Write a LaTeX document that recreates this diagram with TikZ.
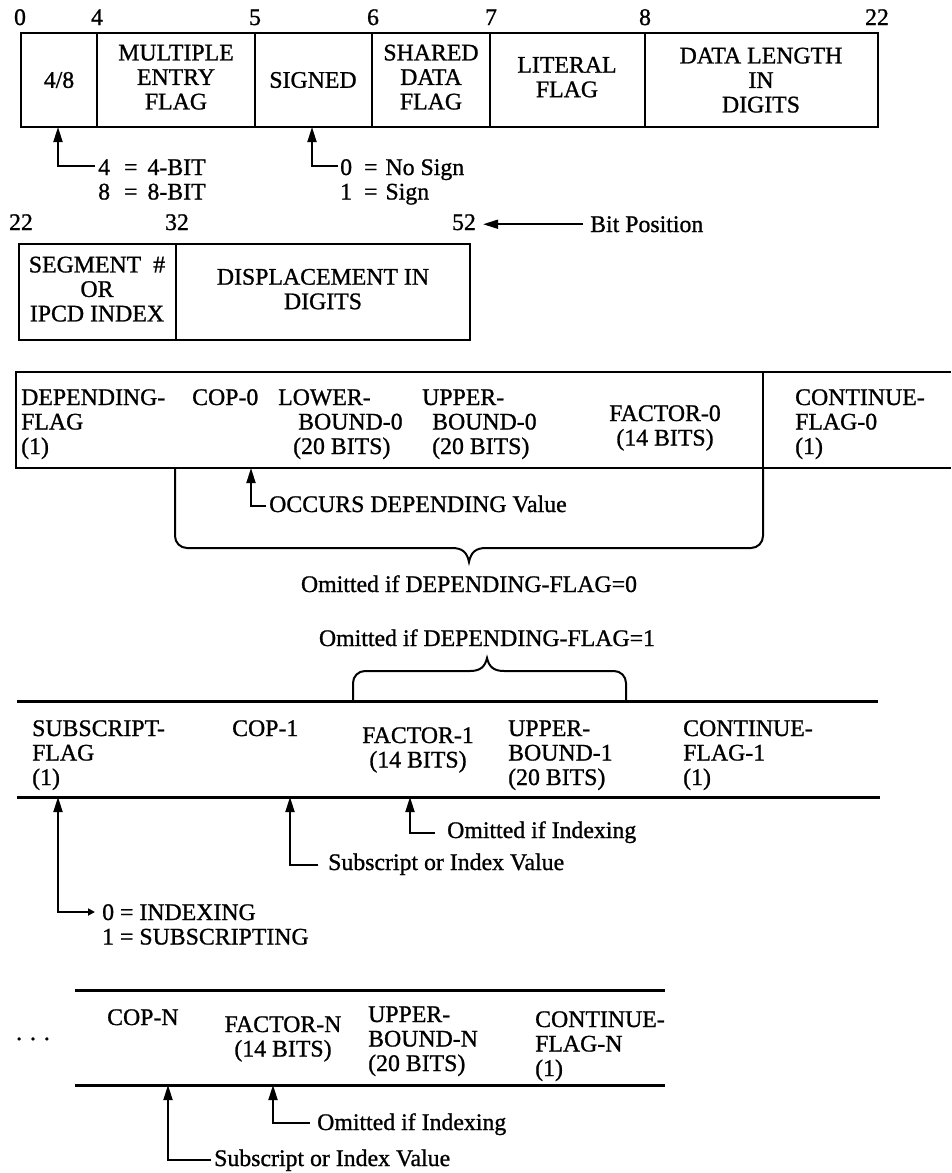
\documentclass[tikz,border=0pt]{standalone}
\usepackage{fontspec}
\setmainfont{Liberation Serif}[FakeBold=1.0]
\usetikzlibrary{arrows.meta}
% multi-line field text whose baseline is that of its first line
\newcommand\fieldtext[2][l]{\begin{tabular}[t]{@{}#1@{}}#2\end{tabular}}
\newcommand\legendfont{\fontsize{23.8}{24.5}\selectfont}

\begin{document}
\begin{tikzpicture}[x=1pt,y=-1pt,
  every node/.style={inner sep=0pt, font=\legendfont},
  cell/.style={line width=2.6pt},
  rule/.style={line width=3pt},
  brace/.style={line width=2pt},
  ptr/.style={line width=1.8pt, -{Triangle[length=15pt,width=9pt]}},
  lbl/.style={anchor=base west},
  num/.style={anchor=base},
]
\useasboundingbox (0,0) rectangle (952,1173);

% ---------- first word: bits 0-22 ----------
\draw[cell] (21,33) rectangle (878,127);
\foreach \x in {97,255,372,490,645} \draw[cell] (\x,33) -- (\x,127);
\node[num] (b0)  at (20,25)  {0};
\node[num] (b4)  at (97,25)  {4};
\node[num] (b5)  at (255,25) {5};
\node[num] (b6)  at (373,25) {6};
\node[num] (b7)  at (491,25) {7};
\node[num] (b8)  at (645,25) {8};
\node[num] (b22) at (877,25) {22};

\node (f48)  at (59,80)  {4/8};
\node (fme)  at (176,80) {\fieldtext[c]{MULTIPLE\\ENTRY\\FLAG}};
\node (fsg)  at (313,80) {SIGNED};
\node (fsd)  at (431,80) {\fieldtext[c]{SHARED\\DATA\\FLAG}};
\node (flit) at (567,80) {\fieldtext[c]{LITERAL\\FLAG}};
\node (fdl)  at (761,83) {\fieldtext[c]{DATA LENGTH\\IN\\DIGITS}};

\coordinate (p48) at (58,127);
\coordinate (e48) at (95,166);
\draw[ptr] (e48) -| (p48);
\node[lbl] (v48) at (98,175)
  {\begin{tabular}[t]{@{}c@{\hspace{14pt}}c@{\hspace{10pt}}l@{}}4 & = & 4-BIT\\ 8 & = & 8-BIT\end{tabular}};

\coordinate (psg) at (312,127);
\coordinate (esg) at (338,166);
\draw[ptr] (esg) -| (psg);
\node[lbl] (vsg) at (340,175)
  {\begin{tabular}[t]{@{}c@{\hspace{12pt}}c@{\hspace{8pt}}l@{}}0 & = & No Sign\\ 1 & = & Sign\end{tabular}};

% ---------- second word: bits 22-52 ----------
\draw[cell] (19,244) rectangle (470,340);
\draw[cell] (176,244) -- (176,340);
\node[num] (c22) at (21,230)  {22};
\node[num] (c32) at (177,230) {32};
\node[num] (c52) at (464,230) {52};
\node[lbl] (bitpos) at (590,232) {Bit Position};
\draw[line width=1.8pt, -{Triangle[length=15pt,width=9pt]}, shorten <=7pt, shorten >=7pt]
  (bitpos.west) -- (bitpos.west -| c52.east);

\node (fseg) at (97,292)  {\fieldtext[c]{SEGMENT\hspace{12pt}\#\\OR\\IPCD INDEX}};
\node (fdsp) at (323,292) {\fieldtext[c]{DISPLACEMENT IN\\DIGITS}};

% ---------- dimension-0 entry ----------
\draw[cell] (951,372) -- (16,372) -- (16,468) -- (951,468);
\draw[cell] (763,372) -- (763,468);

\node[lbl] (dep)  at (21,405)  {\fieldtext{DEPENDING-\\FLAG\\(1)}};
\node[lbl] (cop0) at (192,405) {COP-0};
\node[lbl] (lb0)  at (278,405) {\fieldtext{LOWER-\\\hspace*{20pt}BOUND-0\\\hspace*{15pt}(20 BITS)}};
\node[lbl] (ub0)  at (422,405) {\fieldtext{UPPER-\\\hspace*{10pt}BOUND-0\\\hspace*{10pt}(20 BITS)}};
\node[num] (fc0)  at (665,421) {\fieldtext[c]{FACTOR-0\\(14 BITS)}};
\node[lbl] (cf0)  at (795,405) {\fieldtext{CONTINUE-\\FLAG-0\\(1)}};

\coordinate (pcop0) at (251,468);
\coordinate (eocc)  at (266,506);
\draw[ptr] (eocc) -| (pcop0);
\node[lbl] (occ) at (269,512) {OCCURS DEPENDING Value};

\draw[brace] (175,468) -- (175,536) to[out=-90,in=180] (187,548) -- (452,548)
  .. controls (462,548) and (467,552) .. (469,562)
  .. controls (471,552) and (476,548) .. (486,548) -- (751,548)
  to[out=0,in=-90] (763,536) -- (763,468);
\node[num] (om0) at (469,592) {Omitted if DEPENDING-FLAG=0};
\node[num] (om1) at (487,646) {Omitted if DEPENDING-FLAG=1};

% ---------- dimension-1 entry ----------
\draw[brace] (353,701) -- (353,683) to[out=90,in=180] (365,671) -- (470,671)
  .. controls (480,671) and (485,667) .. (487,658)
  .. controls (489,667) and (494,671) .. (504,671) -- (614,671)
  to[out=0,in=90] (626,683) -- (626,701);

\draw[rule] (17,701) -- (878,701);
\draw[rule] (17,797) -- (880,797);

\node[lbl] (sf)   at (32,736)  {\fieldtext{SUBSCRIPT-\\FLAG\\(1)}};
\node[lbl] (cop1) at (232,736) {COP-1};
\node[num] (fc1)  at (418,743) {\fieldtext[c]{FACTOR-1\\(14 BITS)}};
\node[lbl] (ub1)  at (508,736) {\fieldtext{UPPER-\\BOUND-1\\(20 BITS)}};
\node[lbl] (cf1)  at (683,736) {\fieldtext{CONTINUE-\\FLAG-1\\(1)}};

\coordinate (psf) at (58,797);
\coordinate (eix) at (95,912);
\draw[line width=1.8pt, {Triangle[length=15pt,width=9pt]}-{Triangle[length=7pt,width=7pt]}]
  (psf) |- (eix);
\node[lbl] (vix) at (102,920) {\fieldtext{0 = INDEXING\\1 = SUBSCRIPTING}};

\coordinate (pcop1) at (290,797);
\coordinate (esb1)  at (318,865);
\draw[ptr] (esb1) -| (pcop1);
\node[lbl] (sb1) at (328,870) {Subscript or Index Value};

\coordinate (pfc1) at (410,797);
\coordinate (eom1) at (435,833);
\draw[ptr] (eom1) -| (pfc1);
\node[lbl] (oi1) at (447,838) {Omitted if Indexing};

% ---------- dimension-N entry ----------
\draw[rule] (75,990) -- (665,990);
\draw[rule] (75,1085) -- (665,1085);

\node[num] (dots) at (33,1040) {.\,\,.\,\,.};
\node[lbl] (copn) at (107,1025) {COP-N};
\node[num] (fcn)  at (283,1032) {\fieldtext[c]{FACTOR-N\\(14 BITS)}};
\node[lbl] (ubn)  at (368,1022) {\fieldtext{UPPER-\\BOUND-N\\(20 BITS)}};
\node[lbl] (cfn)  at (535,1027) {\fieldtext{CONTINUE-\\FLAG-N\\(1)}};

\coordinate (pcopn) at (168,1085);
\coordinate (esbn)  at (211,1160);
\draw[ptr] (esbn) -| (pcopn);
\node[lbl] (sbn) at (214,1166) {Subscript or Index Value};

\coordinate (pfcn) at (273,1085);
\coordinate (eomn) at (310,1123);
\draw[ptr] (eomn) -| (pfcn);
\node[lbl] (oin) at (317,1130) {Omitted if Indexing};

\end{tikzpicture}
\end{document}
